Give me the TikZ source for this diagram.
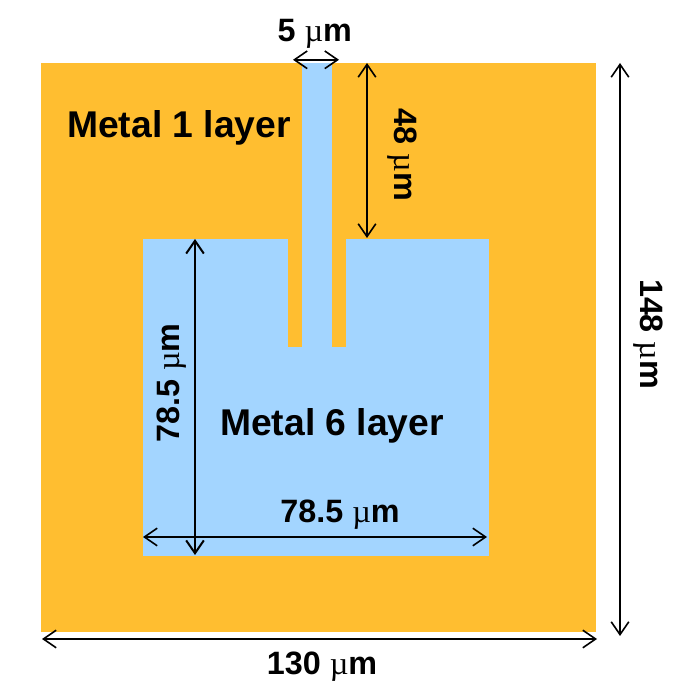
\documentclass[tikz,border=0pt]{standalone}
\usepackage{fontspec}
\setmainfont{Liberation Sans}
\newfontfamily\mufont{Liberation Serif}
\usetikzlibrary{arrows.meta}
\definecolor{metalone}{RGB}{255,190,48}
\definecolor{metalsix}{RGB}{163,213,255}
\def\um{{\mufont\mdseries µ}m}
\tikzset{
	layerlabel/.style={font=\fontsize{26.5}{30}\bfseries\selectfont, inner sep=0pt},
	dimlabel/.style={font=\fontsize{23}{27}\bfseries\selectfont, inner sep=0pt},
	dimline/.style={line width=0.4mm, {Straight Barb[length=3.2mm,width=4.4mm]}-{Straight Barb[length=3.2mm,width=4.4mm]}}
}

\begin{document}
\begin{tikzpicture}
			\useasboundingbox (0, 0) rectangle (17, 17.275);
			
			%%%%% layers %%%%%
			\fill[metalone] (1.025, 1.475) rectangle (14.9, 15.7);
			\fill[metalsix] (3.575, 3.375) rectangle (12.225, 11.3);
			\fill[metalone] (7.2, 8.6) rectangle (8.65, 11.3);
			\fill[metalsix] (7.55, 8.6) rectangle (8.3, 15.7);
			
			%%%%% dimension ends %%%%%
			\coordinate (wTopL) at (7.325, 15.78);
			\coordinate (wTopR) at (8.475, 15.78);
			\coordinate (slotTop) at (9.175, 15.7);
			\coordinate (slotBot) at (9.175, 11.325);
			\coordinate (padTop) at (4.875, 11.3);
			\coordinate (padBot) at (4.875, 3.4);
			\coordinate (padL) at (3.575, 3.85);
			\coordinate (padR) at (12.175, 3.85);
			\coordinate (chipL) at (1.05, 1.3);
			\coordinate (chipR) at (14.925, 1.3);
			\coordinate (chipTop) at (15.5, 15.7);
			\coordinate (chipBot) at (15.5, 1.375);
			
			\draw[dimline] (wTopL) -- (wTopR);
			\draw[dimline] (slotTop) -- (slotBot);
			\draw[dimline, line width=0.5mm] (padTop) -- (padBot);
			\draw[dimline] (padL) -- (padR);
			\draw[dimline] (chipL) -- (chipR);
			\draw[dimline] (chipTop) -- (chipBot);
			
			%%%%% labels %%%%%
			\node[layerlabel] (metalOne) at (4.475, 14.08) {Metal 1 layer};
			\node[layerlabel] (metalSix) at (8.3, 6.62) {Metal 6 layer};
			\node[dimlabel] (topLabel) at (7.87, 16.43) {5 \um};
			\node[dimlabel, rotate=-90] (slotLabel) at (10.05, 13.4) {48 \um};
			\node[dimlabel, rotate=90] (padLabelV) at (4.28, 7.7) {78.5 \um};
			\node[dimlabel] (padLabelH) at (8.5, 4.4) {78.5 \um};
			\node[dimlabel] (chipLabelH) at (8.05, 0.62) {130 \um};
			\node[dimlabel, rotate=-90] (chipLabelV) at (16.2, 8.92) {148 \um};
		\end{tikzpicture}
\end{document}
